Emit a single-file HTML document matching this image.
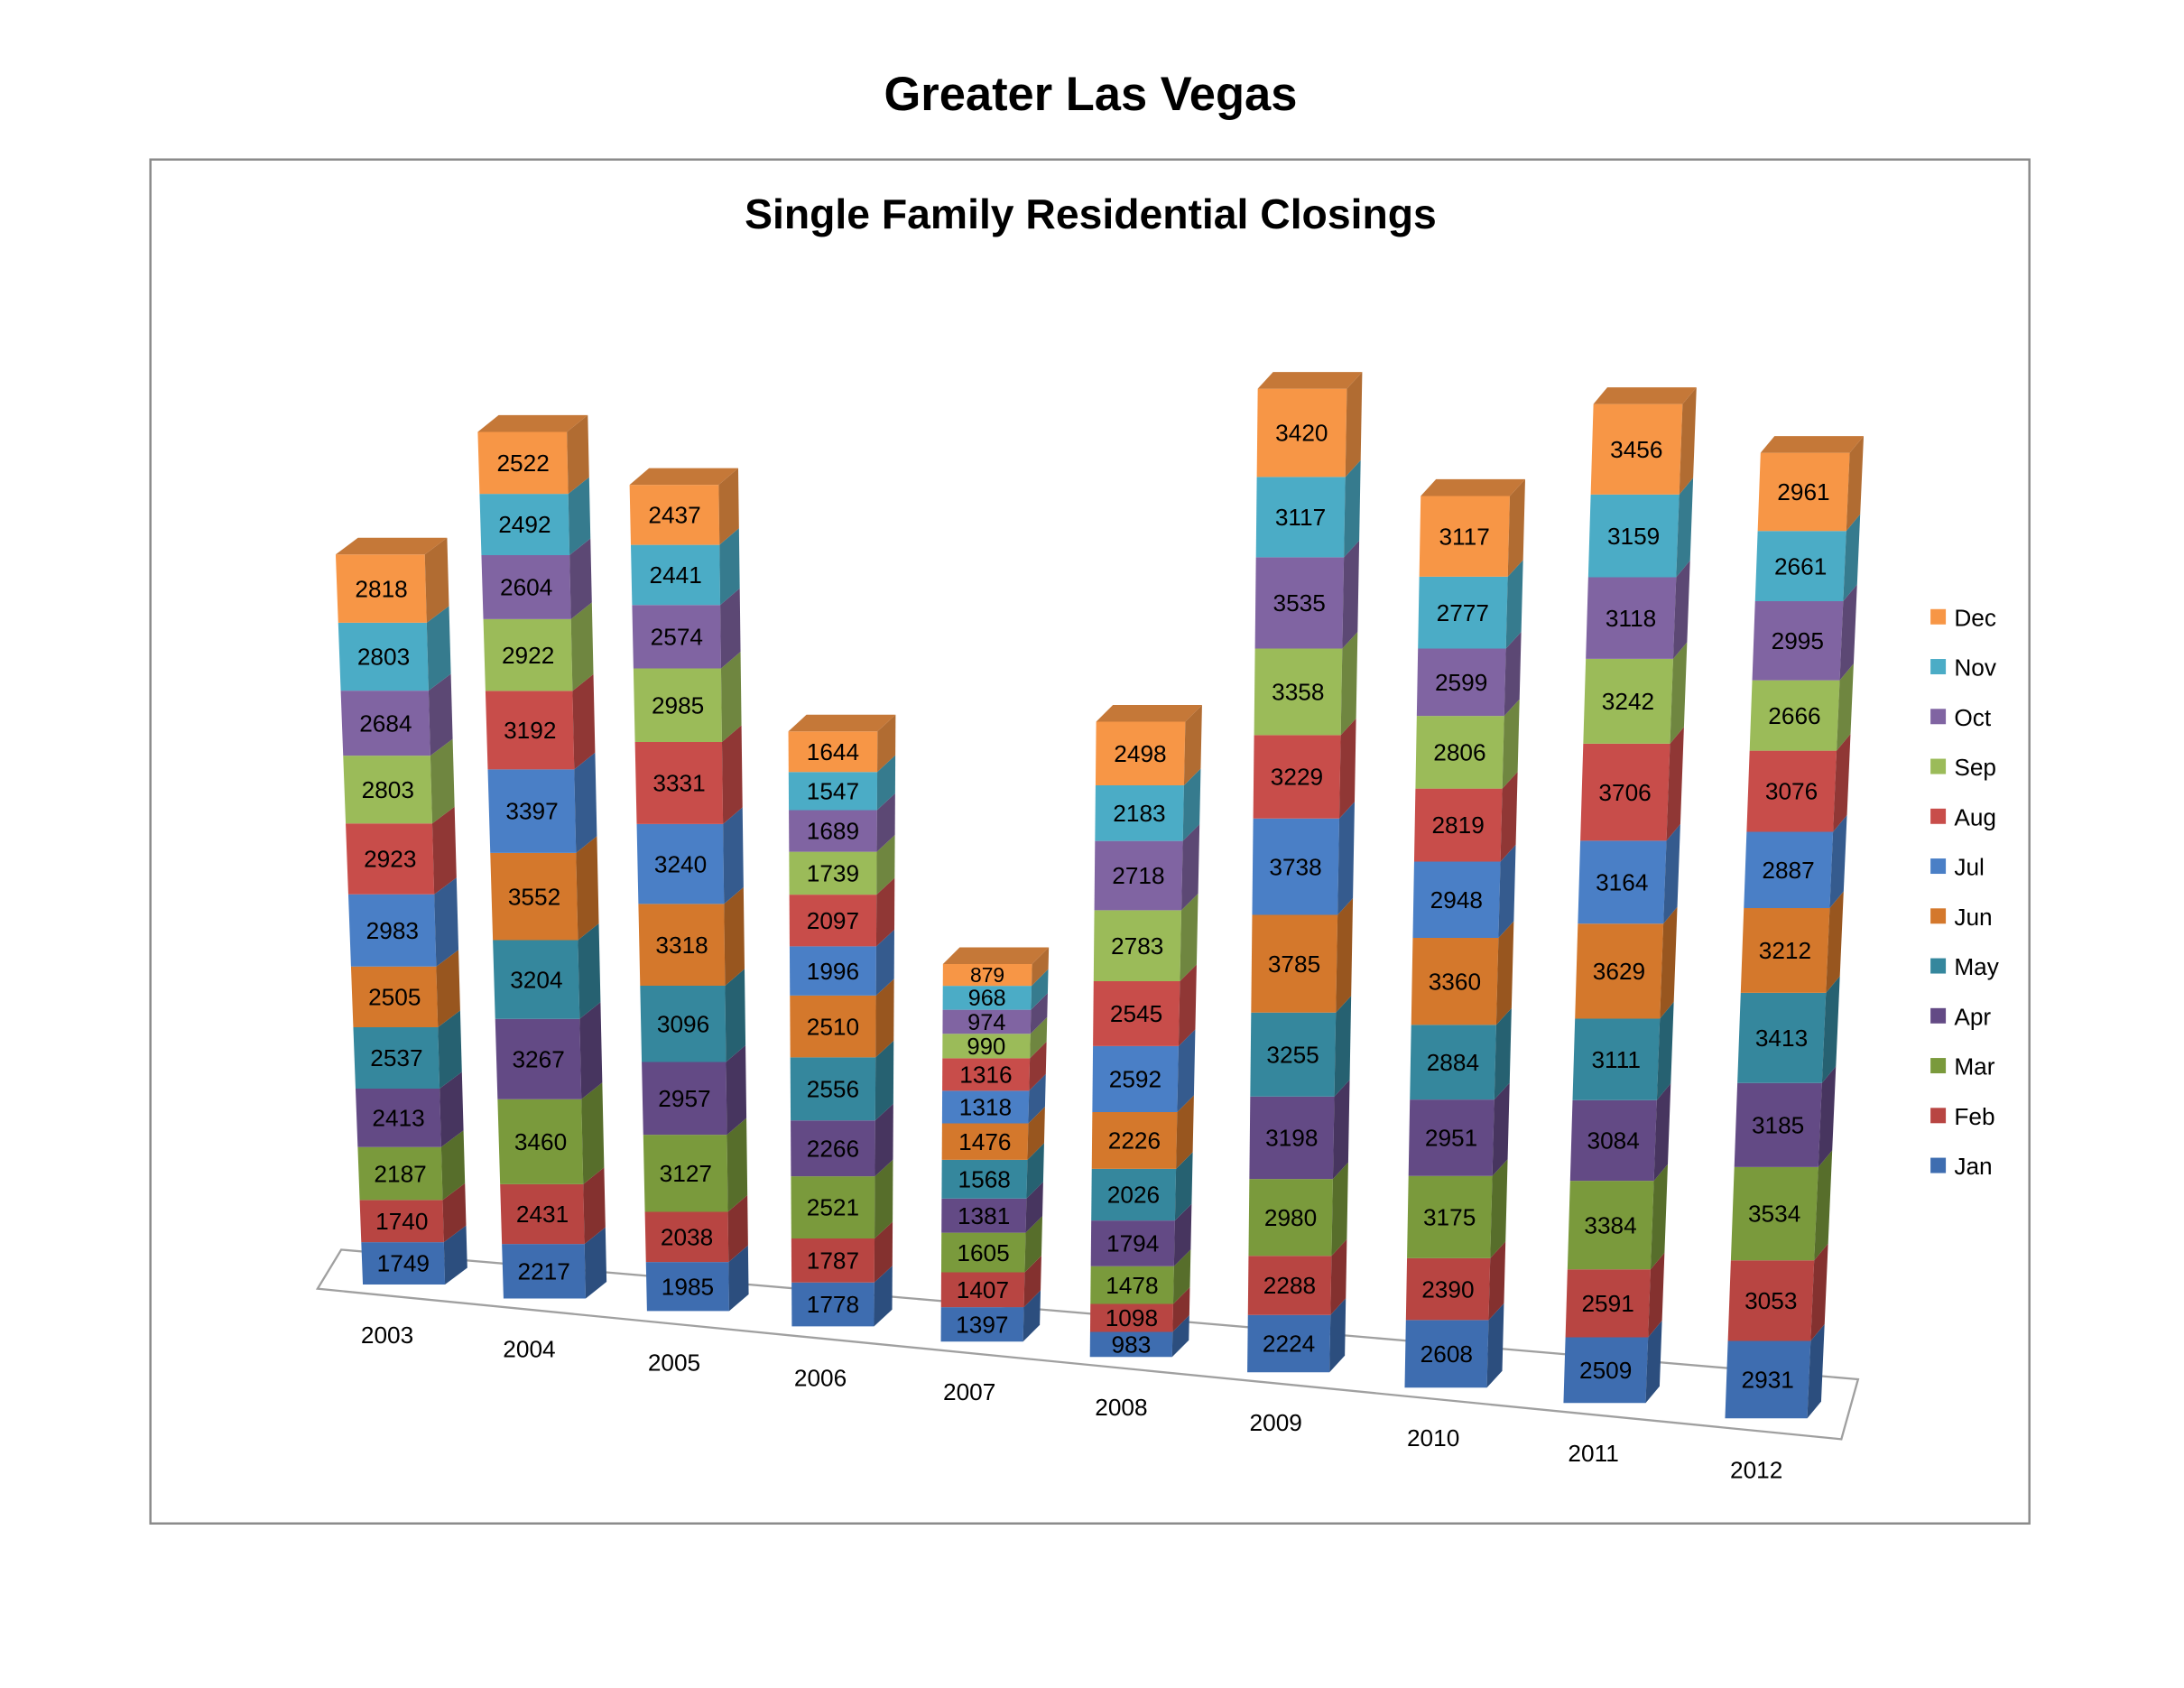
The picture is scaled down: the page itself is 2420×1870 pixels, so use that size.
<!DOCTYPE html>
<html><head><meta charset="utf-8"><style>
html,body{margin:0;padding:0;background:#fff;width:2420px;height:1870px;overflow:hidden}
svg{display:block}
</style></head><body>
<svg id="s" width="2420" height="1870" viewBox="0 0 1568 1211.6" preserveAspectRatio="none" xmlns="http://www.w3.org/2000/svg" font-family="Liberation Sans, sans-serif">
<text x="783" y="79" text-anchor="middle" font-size="34" font-weight="bold">Greater Las Vegas</text>
<rect x="108" y="114.5" width="1349" height="979" fill="none" stroke="#8a8a8a" stroke-width="1.6"/>
<text x="783" y="164" text-anchor="middle" font-size="30" font-weight="bold">Single Family Residential Closings</text>
<polygon points="228,925 245,897 1334,990 1322,1033" fill="none" stroke="#a0a0a0" stroke-width="1.5"/>
<g id="bars"></g>
<g id="leg" font-size="17"></g>
<g id="yrs" font-size="17"></g>
</svg>
<script>
var data={
2003:[1749,1740,2187,2413,2537,2505,2983,2923,2803,2684,2803,2818],
2004:[2217,2431,3460,3267,3204,3552,3397,3192,2922,2604,2492,2522],
2005:[1985,2038,3127,2957,3096,3318,3240,3331,2985,2574,2441,2437],
2006:[1778,1787,2521,2266,2556,2510,1996,2097,1739,1689,1547,1644],
2007:[1397,1407,1605,1381,1568,1476,1318,1316,990,974,968,879],
2008:[983,1098,1478,1794,2026,2226,2592,2545,2783,2718,2183,2498],
2009:[2224,2288,2980,3198,3255,3785,3738,3229,3358,3535,3117,3420],
2010:[2608,2390,3175,2951,2884,3360,2948,2819,2806,2599,2777,3117],
2011:[2509,2591,3384,3084,3111,3629,3164,3706,3242,3118,3159,3456],
2012:[2931,3053,3534,3185,3413,3212,2887,3076,2666,2995,2661,2961]};
var geo={2003:[398,922,273,290,16],2004:[310,932,375,391,15],2005:[348,941,484,494,14],2006:[525,952,598,598,13],2007:[692,963,709,705,12],
2008:[518,974,819,812,12],2009:[279,985,935,925,11],2010:[356,996,1052,1038,11],2011:[290,1007,1176,1152,10],2012:[325,1018,1296,1268,10]};
var fc=['#3e6db0','#b84542','#7a9a3c','#634a85','#35879d','#d4782c','#4a7fc6','#c84d4a','#9bbb59','#8064a2','#4bacc6','#f79646'];
function dk(h,f){var n=parseInt(h.slice(1),16);var r=(n>>16)*f|0,g=((n>>8)&255)*f|0,b=(n&255)*f|0;return 'rgb('+r+','+g+','+b+')';}
var names=['Jan','Feb','Mar','Apr','May','Jun','Jul','Aug','Sep','Oct','Nov','Dec'];
var out='';
for(var y in data){
 var v=data[y],g=geo[y],tot=v.reduce(function(a,b){return a+b},0);
 var T=g[0],B=g[1],d=g[4],dy=-12;
 function X(yy){var t=(yy-T)/(B-T);return g[2]+(g[3]-g[2])*t;}
 function W(yy){var t=(yy-T)/(B-T);return 64-5*t;}
 var cum=0;
 for(var i=0;i<12;i++){
  var y1=B-(B-T)*cum/tot; cum+=v[i]; var y0=B-(B-T)*cum/tot;
  var l0=X(y0)-W(y0)/2,r0=X(y0)+W(y0)/2,l1=X(y1)-W(y1)/2,r1=X(y1)+W(y1)/2;
  out+='<polygon points="'+l0+','+y0+' '+r0+','+y0+' '+r1+','+y1+' '+l1+','+y1+'" fill="'+fc[i]+'"/>';
  out+='<polygon points="'+r0+','+y0+' '+(r0+d)+','+(y0+dy)+' '+(r1+d)+','+(y1+dy)+' '+r1+','+y1+'" fill="'+dk(fc[i],0.72)+'"/>';
  if(i==11){out+='<polygon points="'+l0+','+y0+' '+(l0+d)+','+(y0+dy)+' '+(r0+d)+','+(y0+dy)+' '+r0+','+y0+'" fill="'+dk(fc[i],0.8)+'"/>';}
  var fs=Math.min(17,(y1-y0)*0.95);
  out+='<text x="'+X((y0+y1)/2)+'" y="'+((y0+y1)/2+fs*0.35)+'" text-anchor="middle" font-size="'+fs+'">'+v[i]+'</text>';
 }
}
document.getElementById('bars').innerHTML=out;
var lg='';
for(var i=0;i<12;i++){var yy=837-(i)*35.8;
 lg+='<rect x="1386" y="'+(yy-6)+'" width="11" height="11" fill="'+fc[i]+'"/><text x="1403" y="'+(yy+6)+'">'+names[i]+'</text>';}
document.getElementById('leg').innerHTML=lg;
var yp=[[278,964],[380,974],[484,984],[589,995],[696,1005],[805,1016],[916,1027],[1029,1038],[1144,1049],[1261,1061]],ys='';
for(var i=0;i<10;i++)ys+='<text x="'+yp[i][0]+'" y="'+yp[i][1]+'" text-anchor="middle">'+(2003+i)+'</text>';
document.getElementById('yrs').innerHTML=ys;
</script>
</body></html>
